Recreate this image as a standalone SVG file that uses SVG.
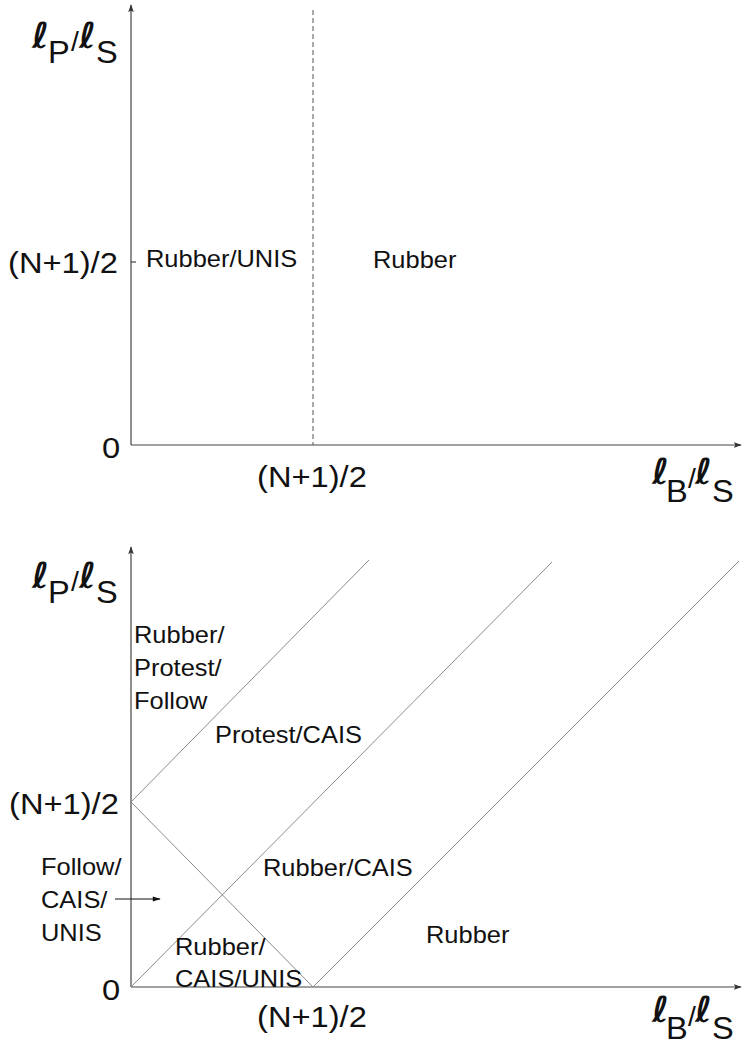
<svg xmlns="http://www.w3.org/2000/svg" width="743" height="1044" viewBox="0 0 743 1044">
<style>
.t{font-family:"Liberation Sans",Arial,sans-serif;fill:#111}
.r{font-size:24px}
.n{font-size:30px}
.s{font-size:31px}
.l{font-family:"DejaVu Sans",sans-serif;font-weight:bold;font-style:italic;font-size:36px;fill:#111}
.sl{font-size:27px}
.ax{stroke:#444;stroke-width:1.2;fill:none}
.dg{stroke:#8a8a8a;stroke-width:1;fill:none}
.dash{stroke:#555;stroke-width:1;stroke-dasharray:5,3;fill:none}
</style>
<defs>
<marker id="ah" viewBox="0 0 10 10" refX="9" refY="5" markerWidth="8" markerHeight="8" markerUnits="userSpaceOnUse" orient="auto">
<path d="M0,1.5 L10,5 L0,8.5 L2,5 Z" fill="#333"/>
</marker>
<marker id="ah2" viewBox="0 0 10 10" refX="9" refY="5" markerWidth="12" markerHeight="8" markerUnits="userSpaceOnUse" orient="auto">
<path d="M0,2 L10,5 L0,8 Z" fill="#111"/>
</marker>
</defs>

<!-- Top plot -->
<g id="top-axes">
<line class="ax" x1="131" y1="445" x2="131" y2="5" marker-end="url(#ah)"/>
<line class="ax" x1="131" y1="445" x2="741" y2="445" marker-end="url(#ah)"/>
<line class="ax" x1="131" y1="262" x2="136" y2="262"/>
<line class="dash" x1="313" y1="10" x2="313" y2="445"/>
</g>
<g id="top-ylabel">
<text class="l" x="32" y="48">ℓ</text>
<text class="t s" transform="translate(48 63) scale(1.05 1)">P</text>
<text class="t sl" transform="translate(71 51) scale(1.05 1)">/</text>
<text class="l" x="79" y="48">ℓ</text>
<text class="t s" transform="translate(96 63) scale(1.05 1)">S</text>
</g>
<g id="top-xlabel">
<text class="l" x="652" y="484">ℓ</text>
<text class="t s" transform="translate(666 502) scale(1.05 1)">B</text>
<text class="t sl" transform="translate(688 488) scale(1.05 1)">/</text>
<text class="l" x="695" y="484">ℓ</text>
<text class="t s" transform="translate(712 502) scale(1.05 1)">S</text>
</g>
<g id="top-ticks">
<text class="t n" transform="translate(8 273) scale(1.09 1)">(N+1)/2</text>
<text class="t n" transform="translate(102 458) scale(1.09 1)">0</text>
<text class="t n" transform="translate(257 487) scale(1.09 1)">(N+1)/2</text>
</g>
<g id="top-rubber-unis"><text class="t r" transform="translate(146 267) scale(1.06 1)">Rubber/UNIS</text></g>
<g id="top-rubber"><text class="t r" transform="translate(373 268) scale(1.06 1)">Rubber</text></g>

<!-- Bottom plot -->
<g id="bottom-axes">
<line class="ax" x1="131" y1="987" x2="131" y2="547" marker-end="url(#ah)"/>
<line class="ax" x1="131" y1="987" x2="741" y2="987" marker-end="url(#ah)"/>
</g>
<g id="connectors">
<line class="dg" x1="131" y1="802" x2="313" y2="987"/>
<line class="dg" x1="131" y1="802" x2="369" y2="560"/>
<line class="dg" x1="131" y1="987" x2="552" y2="562"/>
<line class="dg" x1="313" y1="987" x2="739" y2="561"/>
<line stroke="#111" stroke-width="1.2" x1="115" y1="899" x2="160" y2="899" marker-end="url(#ah2)"/>
</g>
<g id="bottom-ylabel">
<text class="l" x="32" y="588">ℓ</text>
<text class="t s" transform="translate(48 603) scale(1.05 1)">P</text>
<text class="t sl" transform="translate(71 591) scale(1.05 1)">/</text>
<text class="l" x="79" y="588">ℓ</text>
<text class="t s" transform="translate(96 603) scale(1.05 1)">S</text>
</g>
<g id="bottom-xlabel">
<text class="l" x="652" y="1022">ℓ</text>
<text class="t s" transform="translate(666 1039) scale(1.05 1)">B</text>
<text class="t sl" transform="translate(688 1026) scale(1.05 1)">/</text>
<text class="l" x="695" y="1022">ℓ</text>
<text class="t s" transform="translate(712 1039) scale(1.05 1)">S</text>
</g>
<g id="bottom-ticks">
<text class="t n" transform="translate(9 814) scale(1.09 1)">(N+1)/2</text>
<text class="t n" transform="translate(102 1000) scale(1.09 1)">0</text>
<text class="t n" transform="translate(257 1027) scale(1.09 1)">(N+1)/2</text>
</g>
<g id="region-rubber-protest-follow">
<text class="t r" transform="translate(134 643) scale(1.06 1)">Rubber/</text>
<text class="t r" transform="translate(134 676) scale(1.06 1)">Protest/</text>
<text class="t r" transform="translate(134 709) scale(1.06 1)">Follow</text>
</g>
<g id="region-protest-cais"><text class="t r" transform="translate(215 743) scale(1.06 1)">Protest/CAIS</text></g>
<g id="region-follow-cais-unis">
<text class="t r" transform="translate(41 875) scale(1.06 1)">Follow/</text>
<text class="t r" transform="translate(41 908) scale(1.06 1)">CAIS/</text>
<text class="t r" transform="translate(41 941) scale(1.06 1)">UNIS</text>
</g>
<g id="region-rubber-cais"><text class="t r" transform="translate(263 876) scale(1.06 1)">Rubber/CAIS</text></g>
<g id="region-rubber-cais-unis">
<text class="t r" transform="translate(175 955) scale(1.06 1)">Rubber/</text>
<text class="t r" transform="translate(175 987) scale(1.06 1)">CAIS/UNIS</text>
</g>
<g id="region-rubber"><text class="t r" transform="translate(426 943) scale(1.06 1)">Rubber</text></g>
</svg>
